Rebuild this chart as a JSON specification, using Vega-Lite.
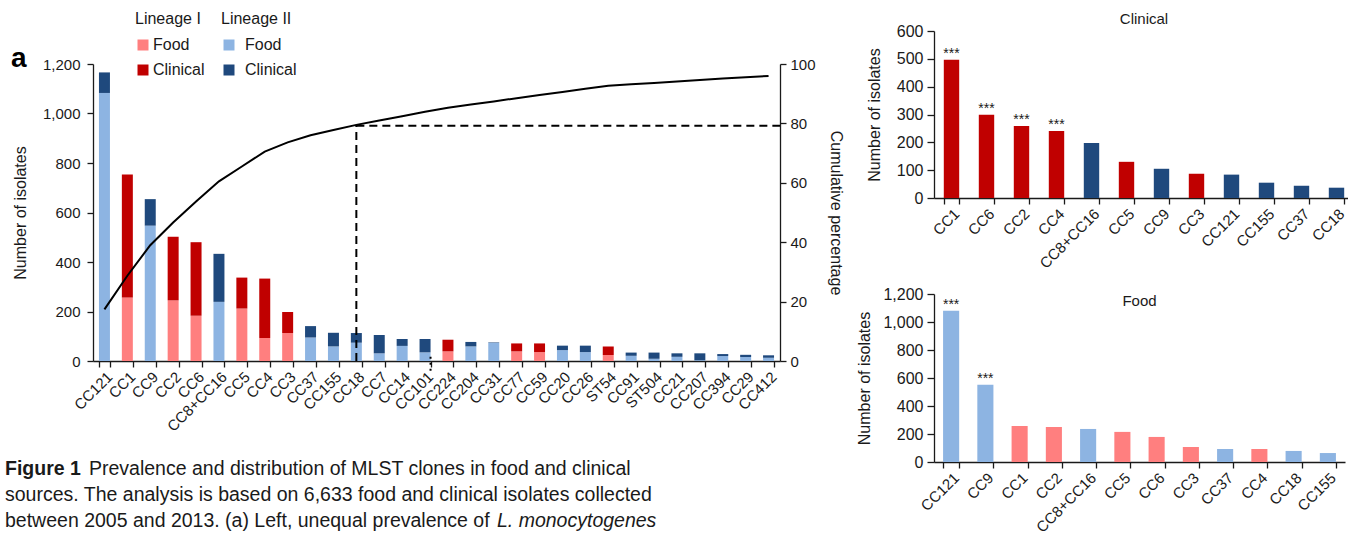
{
  "$schema": "https://vega.github.io/schema/vega-lite/v6.json",
  "background": "white",
  "padding": {"left": 5, "top": 11, "right": 0, "bottom": 0},
  "config": {
    "font": "Liberation Sans",
    "view": {"stroke": null},
    "axis": {"domainColor": "#1a1a1a", "tickColor": "#1a1a1a", "labelColor": "#1a1a1a", "titleColor": "#1a1a1a", "labelFontSize": 15, "titleFontSize": 16, "titleFontWeight": "normal", "grid": false, "tickSize": 6, "domainWidth": 1.3, "tickWidth": 1.3},
    "legend": {"titleFontWeight": "normal", "titleFontSize": 16, "labelFontSize": 16, "titleColor": "#1a1a1a", "labelColor": "#1a1a1a", "symbolType": "square", "symbolSize": 121, "symbolStrokeWidth": 0, "rowPadding": 9, "titlePadding": 10},
    "title": {"fontWeight": "normal", "fontSize": 15, "color": "#1a1a1a"}
  },
  "datasets": {
    "main": [
      {"cc": "CC121", "lin": "II", "src": "Food", "n": 1083}, {"cc": "CC121", "lin": "II", "src": "Clinical", "n": 83},
      {"cc": "CC1", "lin": "I", "src": "Food", "n": 257}, {"cc": "CC1", "lin": "I", "src": "Clinical", "n": 497},
      {"cc": "CC9", "lin": "II", "src": "Food", "n": 547}, {"cc": "CC9", "lin": "II", "src": "Clinical", "n": 107},
      {"cc": "CC2", "lin": "I", "src": "Food", "n": 245}, {"cc": "CC2", "lin": "I", "src": "Clinical", "n": 257},
      {"cc": "CC6", "lin": "I", "src": "Food", "n": 183}, {"cc": "CC6", "lin": "I", "src": "Clinical", "n": 297},
      {"cc": "CC8+CC16", "lin": "II", "src": "Food", "n": 239}, {"cc": "CC8+CC16", "lin": "II", "src": "Clinical", "n": 194},
      {"cc": "CC5", "lin": "I", "src": "Food", "n": 212}, {"cc": "CC5", "lin": "I", "src": "Clinical", "n": 125},
      {"cc": "CC4", "lin": "I", "src": "Food", "n": 93}, {"cc": "CC4", "lin": "I", "src": "Clinical", "n": 240},
      {"cc": "CC3", "lin": "I", "src": "Food", "n": 113}, {"cc": "CC3", "lin": "I", "src": "Clinical", "n": 85},
      {"cc": "CC37", "lin": "II", "src": "Food", "n": 95}, {"cc": "CC37", "lin": "II", "src": "Clinical", "n": 46},
      {"cc": "CC155", "lin": "II", "src": "Food", "n": 59}, {"cc": "CC155", "lin": "II", "src": "Clinical", "n": 55},
      {"cc": "CC18", "lin": "II", "src": "Food", "n": 74}, {"cc": "CC18", "lin": "II", "src": "Clinical", "n": 39},
      {"cc": "CC7", "lin": "II", "src": "Food", "n": 31}, {"cc": "CC7", "lin": "II", "src": "Clinical", "n": 74},
      {"cc": "CC14", "lin": "II", "src": "Food", "n": 61}, {"cc": "CC14", "lin": "II", "src": "Clinical", "n": 28},
      {"cc": "CC101", "lin": "II", "src": "Food", "n": 35}, {"cc": "CC101", "lin": "II", "src": "Clinical", "n": 54},
      {"cc": "CC224", "lin": "I", "src": "Food", "n": 39}, {"cc": "CC224", "lin": "I", "src": "Clinical", "n": 47},
      {"cc": "CC204", "lin": "II", "src": "Food", "n": 59}, {"cc": "CC204", "lin": "II", "src": "Clinical", "n": 18},
      {"cc": "CC31", "lin": "II", "src": "Food", "n": 73}, {"cc": "CC31", "lin": "II", "src": "Clinical", "n": 2},
      {"cc": "CC77", "lin": "I", "src": "Food", "n": 39}, {"cc": "CC77", "lin": "I", "src": "Clinical", "n": 32},
      {"cc": "CC59", "lin": "I", "src": "Food", "n": 36}, {"cc": "CC59", "lin": "I", "src": "Clinical", "n": 35},
      {"cc": "CC20", "lin": "II", "src": "Food", "n": 44}, {"cc": "CC20", "lin": "II", "src": "Clinical", "n": 18},
      {"cc": "CC26", "lin": "II", "src": "Food", "n": 36}, {"cc": "CC26", "lin": "II", "src": "Clinical", "n": 26},
      {"cc": "ST54", "lin": "I", "src": "Food", "n": 24}, {"cc": "ST54", "lin": "I", "src": "Clinical", "n": 35},
      {"cc": "CC91", "lin": "II", "src": "Food", "n": 21}, {"cc": "CC91", "lin": "II", "src": "Clinical", "n": 13},
      {"cc": "ST504", "lin": "II", "src": "Food", "n": 9}, {"cc": "ST504", "lin": "II", "src": "Clinical", "n": 25},
      {"cc": "CC21", "lin": "II", "src": "Food", "n": 17}, {"cc": "CC21", "lin": "II", "src": "Clinical", "n": 14},
      {"cc": "CC207", "lin": "II", "src": "Food", "n": 3}, {"cc": "CC207", "lin": "II", "src": "Clinical", "n": 28},
      {"cc": "CC394", "lin": "II", "src": "Food", "n": 20}, {"cc": "CC394", "lin": "II", "src": "Clinical", "n": 8},
      {"cc": "CC29", "lin": "II", "src": "Food", "n": 16}, {"cc": "CC29", "lin": "II", "src": "Clinical", "n": 9},
      {"cc": "CC412", "lin": "II", "src": "Food", "n": 13}, {"cc": "CC412", "lin": "II", "src": "Clinical", "n": 10}
    ],
    "cum": [
      {"cc": "CC121", "pct": 17.4}, {"cc": "CC1", "pct": 28.7}, {"cc": "CC9", "pct": 39.0}, {"cc": "CC2", "pct": 46.6},
      {"cc": "CC6", "pct": 53.7}, {"cc": "CC8+CC16", "pct": 60.5}, {"cc": "CC5", "pct": 65.5}, {"cc": "CC4", "pct": 70.5},
      {"cc": "CC3", "pct": 73.6}, {"cc": "CC37", "pct": 76.0}, {"cc": "CC155", "pct": 77.8}, {"cc": "CC18", "pct": 79.5},
      {"cc": "CC7", "pct": 81.0}, {"cc": "CC14", "pct": 82.4}, {"cc": "CC101", "pct": 83.9}, {"cc": "CC224", "pct": 85.3},
      {"cc": "CC204", "pct": 86.4}, {"cc": "CC31", "pct": 87.4}, {"cc": "CC77", "pct": 88.5}, {"cc": "CC59", "pct": 89.6},
      {"cc": "CC20", "pct": 90.6}, {"cc": "CC26", "pct": 91.7}, {"cc": "ST54", "pct": 92.7}, {"cc": "CC91", "pct": 93.2},
      {"cc": "ST504", "pct": 93.6}, {"cc": "CC21", "pct": 94.1}, {"cc": "CC207", "pct": 94.6}, {"cc": "CC394", "pct": 95.1},
      {"cc": "CC29", "pct": 95.5}, {"cc": "CC412", "pct": 96.0}
    ],
    "clin": [
      {"cc": "CC1", "lin": "I", "n": 497, "sig": "***"}, {"cc": "CC6", "lin": "I", "n": 299, "sig": "***"},
      {"cc": "CC2", "lin": "I", "n": 259, "sig": "***"}, {"cc": "CC4", "lin": "I", "n": 241, "sig": "***"},
      {"cc": "CC8+CC16", "lin": "II", "n": 198, "sig": ""}, {"cc": "CC5", "lin": "I", "n": 130, "sig": ""},
      {"cc": "CC9", "lin": "II", "n": 105, "sig": ""}, {"cc": "CC3", "lin": "I", "n": 87, "sig": ""},
      {"cc": "CC121", "lin": "II", "n": 84, "sig": ""}, {"cc": "CC155", "lin": "II", "n": 55, "sig": ""},
      {"cc": "CC37", "lin": "II", "n": 44, "sig": ""}, {"cc": "CC18", "lin": "II", "n": 37, "sig": ""}
    ],
    "food": [
      {"cc": "CC121", "lin": "II", "n": 1080, "sig": "***"}, {"cc": "CC9", "lin": "II", "n": 551, "sig": "***"},
      {"cc": "CC1", "lin": "I", "n": 257, "sig": ""}, {"cc": "CC2", "lin": "I", "n": 250, "sig": ""},
      {"cc": "CC8+CC16", "lin": "II", "n": 236, "sig": ""}, {"cc": "CC5", "lin": "I", "n": 215, "sig": ""},
      {"cc": "CC6", "lin": "I", "n": 179, "sig": ""}, {"cc": "CC3", "lin": "I", "n": 107, "sig": ""},
      {"cc": "CC37", "lin": "II", "n": 93, "sig": ""}, {"cc": "CC4", "lin": "I", "n": 93, "sig": ""},
      {"cc": "CC18", "lin": "II", "n": 79, "sig": ""}, {"cc": "CC155", "lin": "II", "n": 64, "sig": ""}
    ]
  },
  "columns": 2,
  "align": "none",
  "spacing": 12,
  "concat": [
    {
      "bounds": "flush",
      "spacing": 20,
      "vconcat": [
        {
          "width": 687,
          "height": 13,
          "data": {"values": []},
          "mark": {"type": "rule", "opacity": 0},
          "encoding": {}
        },
        {
          "width": 687,
          "height": 297,
          "title": {"text": "a", "anchor": "start", "frame": "group", "fontSize": 28, "fontWeight": "bold", "color": "#000", "dx": -82, "dy": 58, "offset": -4},
          "layer": [
            {
              "layer": [
                {
                  "data": {"name": "main"},
                  "transform": [{"filter": "datum.lin == 'I'"}],
                  "mark": {"type": "bar"},
                  "encoding": {
                    "x": {"field": "cc", "type": "nominal", "scale": {"domain": ["CC121","CC1","CC9","CC2","CC6","CC8+CC16","CC5","CC4","CC3","CC37","CC155","CC18","CC7","CC14","CC101","CC224","CC204","CC31","CC77","CC59","CC20","CC26","ST54","CC91","ST504","CC21","CC207","CC394","CC29","CC412"], "paddingInner": 0.52, "paddingOuter": 0.26}, "axis": {"title": null, "labelAngle": -45, "tickBand": "extent", "labelPadding": 2}},
                    "y": {"field": "n", "type": "quantitative", "stack": "zero", "scale": {"domain": [0, 1200], "nice": false}, "axis": {"orient": "left", "title": "Number of isolates", "values": [0, 200, 400, 600, 800, 1000, 1200], "labelPadding": 7, "titlePadding": 14}},
                    "color": {"field": "src", "type": "nominal", "scale": {"domain": ["Food", "Clinical"], "range": ["#FF7F7F", "#C00000"]}, "legend": {"title": "Lineage I", "orient": "none", "legendX": 42, "legendY": -53, "labelOffset": 2}},
                    "order": {"field": "src", "sort": "descending"}
                  }
                },
                {
                  "data": {"name": "main"},
                  "transform": [{"filter": "datum.lin == 'II'"}],
                  "mark": {"type": "bar"},
                  "encoding": {
                    "x": {"field": "cc", "type": "nominal", "axis": {"title": null, "labelAngle": -45, "tickBand": "extent", "labelPadding": 2}},
                    "y": {"field": "n", "type": "quantitative", "stack": "zero"},
                    "color": {"field": "src", "type": "nominal", "scale": {"domain": ["Food", "Clinical"], "range": ["#8DB4E2", "#1F497D"]}, "legend": {"title": "Lineage II", "orient": "none", "legendX": 128, "legendY": -53, "labelOffset": 8}},
                    "order": {"field": "src", "sort": "descending"}
                  }
                },
                {
                  "data": {"values": [{"cc": "CC101", "a": 17, "b": -43}]},
                  "mark": {"type": "rule", "strokeDash": [2, 4], "strokeWidth": 2, "color": "#000"},
                  "encoding": {
                    "x": {"field": "cc", "type": "nominal", "bandPosition": 1},
                    "y": {"field": "a", "type": "quantitative"},
                    "y2": {"field": "b"}
                  }
                }
              ],
              "resolve": {"scale": {"color": "independent"}}
            },
            {
              "layer": [
                {
                  "data": {"name": "cum"},
                  "mark": {"type": "line", "color": "#000", "strokeWidth": 2},
                  "encoding": {
                    "x": {"field": "cc", "type": "nominal"},
                    "y": {"field": "pct", "type": "quantitative", "scale": {"domain": [0, 100], "nice": false}, "axis": {"orient": "right", "title": "Cumulative percentage", "values": [0, 10, 20, 30, 40, 50, 60, 70, 80, 90, 100], "labelPadding": 4, "titlePadding": 12}}
                  }
                },
                {
                  "data": {"values": [{"cc": "CC18", "lo": 0, "hi": 79.5}]},
                  "mark": {"type": "rule", "strokeDash": [8, 5], "strokeWidth": 2, "color": "#000"},
                  "encoding": {
                    "x": {"field": "cc", "type": "nominal"},
                    "y": {"field": "lo", "type": "quantitative"},
                    "y2": {"field": "hi"}
                  }
                },
                {
                  "data": {"values": [{"cc": "CC18", "p": 79.2}]},
                  "mark": {"type": "rule", "strokeDash": [8, 5], "strokeWidth": 2, "color": "#000"},
                  "encoding": {
                    "x": {"field": "cc", "type": "nominal"},
                    "x2": {"value": "width"},
                    "y": {"field": "p", "type": "quantitative"}
                  }
                }
              ]
            }
          ],
          "resolve": {"scale": {"y": "independent"}}
        },
        {
          "width": 687,
          "height": 137,
          "data": {"values": [
            {"line": 1, "style": "bold", "t": "Figure 1"},
            {"line": 1, "style": "plain", "t": "Prevalence and distribution of MLST clones in food and clinical"},
            {"line": 2, "style": "plain0", "t": "sources. The analysis is based on 6,633 food and clinical isolates collected"},
            {"line": 3, "style": "plain0", "t": "between 2005 and 2013. (a) Left, unequal prevalence of"},
            {"line": 3, "style": "italic", "t": "L. monocytogenes"}
          ]},
          "encoding": {
            "y": {"field": "line", "type": "quantitative", "axis": null, "scale": {"domain": [-2.385, 2.884], "reverse": true, "nice": false, "zero": false}},
            "x": {"value": 0},
            "text": {"field": "t"}
          },
          "layer": [
            {"transform": [{"filter": "datum.style == 'bold'"}], "mark": {"type": "text", "align": "left", "baseline": "middle", "fontSize": 19.5, "fontWeight": "bold", "color": "#1a1a1a", "dx": -88}},
            {"transform": [{"filter": "datum.style == 'plain'"}], "mark": {"type": "text", "align": "left", "baseline": "middle", "fontSize": 19.5, "color": "#1a1a1a", "dx": -4}},
            {"transform": [{"filter": "datum.style == 'plain0'"}], "mark": {"type": "text", "align": "left", "baseline": "middle", "fontSize": 19.5, "color": "#1a1a1a", "dx": -88}},
            {"transform": [{"filter": "datum.style == 'italic'"}], "mark": {"type": "text", "align": "left", "baseline": "middle", "fontSize": 19.5, "fontStyle": "italic", "color": "#1a1a1a", "dx": 404}}
          ]
        }
      ]
    },
    {
      "columns": 1,
      "align": "none",
      "spacing": 14,
      "resolve": {"scale": {"color": "independent"}},
      "concat": [
        {
          "width": 420,
          "height": 167,
          "title": {"text": "Clinical", "offset": -4},
          "data": {"name": "clin"},
          "encoding": {
            "x": {"field": "cc", "type": "nominal", "sort": null, "scale": {"paddingInner": 0.56, "paddingOuter": 0.28}, "axis": {"title": null, "labelAngle": -45, "tickBand": "extent", "labelPadding": 2}},
            "y": {"field": "n", "type": "quantitative", "scale": {"domain": [0, 600], "nice": false}, "axis": {"title": "Number of isolates", "values": [0, 100, 200, 300, 400, 500, 600], "labelFontSize": 16, "tickSize": 7, "labelPadding": 4, "titlePadding": 14}}
          },
          "layer": [
            {"mark": {"type": "bar"}, "encoding": {"color": {"field": "lin", "type": "nominal", "scale": {"domain": ["I", "II"], "range": ["#C00000", "#1F497D"]}, "legend": null}}},
            {"mark": {"type": "text", "baseline": "alphabetic", "dy": -2, "fontSize": 14, "color": "#1a1a1a"}, "encoding": {"text": {"field": "sig"}}}
          ]
        },
        {
          "width": 411,
          "height": 168,
          "title": {"text": "Food", "offset": -23},
          "data": {"name": "food"},
          "encoding": {
            "x": {"field": "cc", "type": "nominal", "sort": null, "scale": {"paddingInner": 0.53, "paddingOuter": 0.265}, "axis": {"title": null, "labelAngle": -45, "tickBand": "extent", "labelPadding": 2}},
            "y": {"field": "n", "type": "quantitative", "scale": {"domain": [0, 1200], "nice": false}, "axis": {"title": "Number of isolates", "values": [0, 200, 400, 600, 800, 1000, 1200], "labelFontSize": 16, "tickSize": 7, "labelPadding": 4, "titlePadding": 10}}
          },
          "layer": [
            {"mark": {"type": "bar"}, "encoding": {"color": {"field": "lin", "type": "nominal", "scale": {"domain": ["I", "II"], "range": ["#FF7F7F", "#8DB4E2"]}, "legend": null}}},
            {"mark": {"type": "text", "baseline": "alphabetic", "dy": -2, "fontSize": 14, "color": "#1a1a1a"}, "encoding": {"text": {"field": "sig"}}}
          ]
        }
      ]
    }
  ]
}
